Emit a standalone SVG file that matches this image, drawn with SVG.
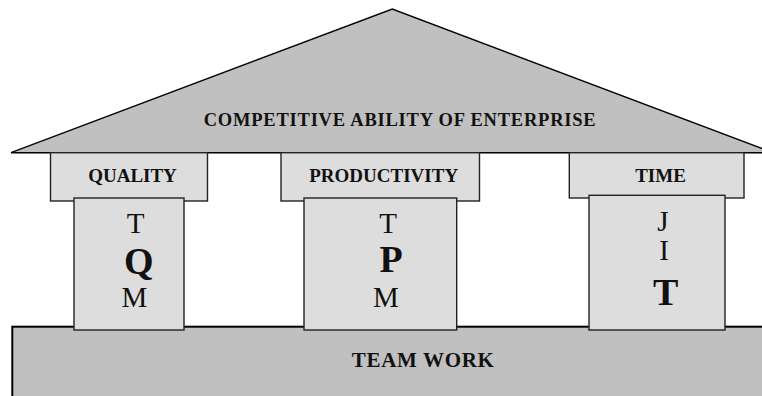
<svg xmlns="http://www.w3.org/2000/svg" width="762" height="396" viewBox="0 0 762 396">
  <style>
    .dark { fill: #c0c0c0; stroke: #000; stroke-width: 1.4; }
    .light { fill: #dddddd; stroke: #222; stroke-width: 1.4; }
    .lbl { font-family: "Liberation Serif", "Times New Roman", serif; font-weight: bold; font-size: 19px; fill: #111; text-anchor: middle; }
    .roof-lbl { font-size: 18.5px; }
    .base-lbl { font-size: 21px; }
    .ltr { font-family: "Liberation Serif", "Times New Roman", serif; font-size: 29px; fill: #111; text-anchor: middle; }
    .big { font-family: "Liberation Serif", "Times New Roman", serif; font-weight: bold; font-size: 38px; fill: #111; text-anchor: middle; }
  </style>
  <rect width="762" height="396" fill="#fff"/>

  <!-- roof -->
  <g id="roof">
    <polygon class="dark" points="11,152.7 392.3,9 773,152.7"/>
    <text class="lbl roof-lbl" x="399.7" y="126" textLength="392" lengthAdjust="spacing">COMPETITIVE ABILITY OF ENTERPRISE</text>
  </g>

  <!-- foundation -->
  <g id="teamwork">
    <rect class="dark" x="12.3" y="326.7" width="770" height="90" style="stroke-width:2"/>
    <text class="lbl base-lbl" x="422.8" y="367.3" textLength="142" lengthAdjust="spacing">TEAM WORK</text>
  </g>

  <!-- pillar: quality -->
  <g id="quality">
    <rect class="light" x="50.5" y="152.7" width="157" height="48.3"/>
    <text class="lbl" x="132.5" y="182.3">QUALITY</text>
  </g>
  <g id="tqm">
    <rect class="light" x="74" y="198" width="110" height="132"/>
    <text class="ltr" x="135.7" y="232.7">T</text>
    <text class="big" x="138.8" y="274">Q</text>
    <text class="ltr" x="134.5" y="306.7">M</text>
  </g>

  <!-- pillar: productivity -->
  <g id="productivity">
    <rect class="light" x="281" y="152.7" width="198.5" height="48.3"/>
    <text class="lbl" x="383.7" y="182.3">PRODUCTIVITY</text>
  </g>
  <g id="tpm">
    <rect class="light" x="304" y="198" width="152.7" height="132"/>
    <text class="ltr" x="388" y="232.7">T</text>
    <text class="big" x="391.2" y="271.7">P</text>
    <text class="ltr" x="385.8" y="306.7">M</text>
  </g>

  <!-- pillar: time -->
  <g id="time">
    <rect class="light" x="569.3" y="152.7" width="174.7" height="45.3"/>
    <text class="lbl" x="660.5" y="182.3">TIME</text>
  </g>
  <g id="jit">
    <rect class="light" x="589" y="195.3" width="136" height="134.7"/>
    <text class="ltr" x="662.8" y="230.7">J</text>
    <text class="ltr" x="664" y="260">I</text>
    <text class="big" x="665.8" y="305">T</text>
  </g>
</svg>
